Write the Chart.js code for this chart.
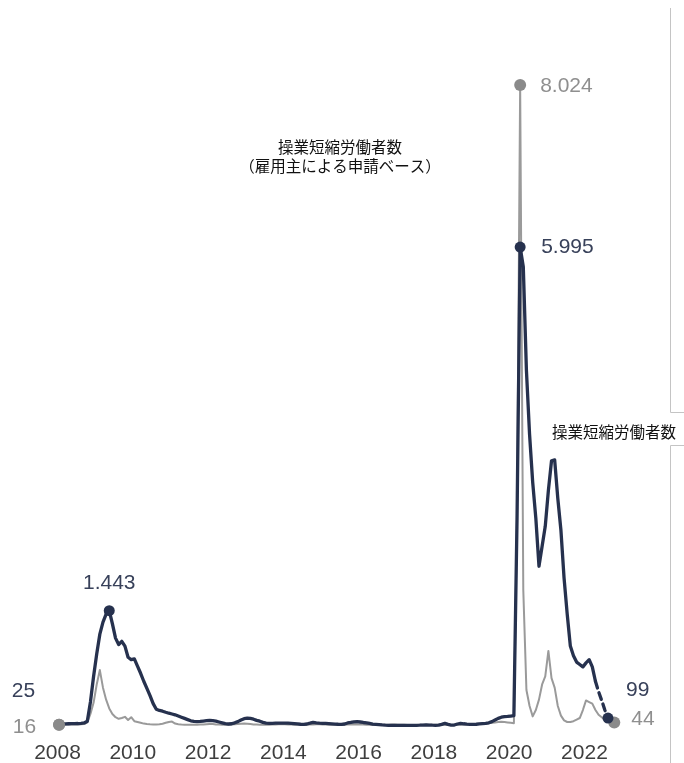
<!DOCTYPE html>
<html lang="ja">
<head>
<meta charset="utf-8">
<title>操業短縮労働者数</title>
<script src="https://cdn.jsdelivr.net/npm/chart.js@4.4.1/dist/chart.umd.min.js"></script>
<style>
  html, body { margin: 0; padding: 0; background: #ffffff; }
  #wrap { position: relative; width: 684px; height: 763px; }
</style>
</head>
<body>
<div id="wrap"><canvas id="chart" width="684" height="763"></canvas></div>
<script>
// Monthly series, starting January 2008, in thousands of workers.
const startYear = 2008;
const yearTicks = [2008, 2010, 2012, 2014, 2016, 2018, 2020, 2022];

// Short-time workers (realised), Jan 2008 – Aug 2022
const workers = [
  25, 26, 27, 28, 29, 30, 31, 33, 38, 60, 300, 620,               // 2008
  900, 1150, 1300, 1400, 1443, 1280, 1100, 1020, 1060, 1000, 860, 830, // 2009
  840, 750, 660, 560, 470, 380, 280, 210, 195, 185, 172, 160,     // 2010
  150, 140, 125, 110, 95, 80, 65, 58, 55, 58, 62, 66,             // 2011
  70, 66, 60, 50, 40, 30, 25, 28, 40, 55, 75, 92,                 // 2012
  98, 95, 85, 70, 60, 45, 36, 34, 34, 35, 35, 36,                 // 2013
  36, 35, 33, 30, 26, 22, 21, 25, 35, 46, 40, 36,                 // 2014
  34, 32, 30, 27, 24, 22, 21, 25, 38, 44, 52, 54,                 // 2015
  50, 44, 40, 32, 24, 21, 18, 14, 11, 9, 9, 9,                    // 2016
  9, 9, 9, 9, 9, 9, 9, 10, 12, 14, 12, 10,                        // 2017
  9, 10, 20, 34, 20, 10, 12, 25, 34, 28, 24, 21,                  // 2018
  20, 22, 26, 30, 34, 40, 55, 75, 96, 110, 117, 120,              // 2019
  125, 130, 2580, 5995, 5750, 4450, 3650, 3050, 2600, 2000, 2250, 2500, // 2020
  2950, 3320, 3330, 2850, 2450, 1850, 1400, 1000, 880, 800, 770, 740,   // 2021
  790, 830, 740, 560, 430, 320, 200, 99                           // 2022
];
// First month of the provisional (dashed) stretch: Apr 2022
const provisionalFrom = 171;

// Short-time workers as notified by employers, Jan 2008 – Oct 2022
const notified = [
  16, 16, 17, 18, 18, 19, 20, 22, 25, 45, 150, 290,               // 2008
  520, 700, 480, 330, 220, 150, 110, 90, 100, 115, 75, 110,       // 2009
  60, 50, 40, 30, 25, 22, 20, 20, 22, 28, 40, 50,                 // 2010
  55, 30, 22, 18, 16, 15, 15, 15, 16, 18, 20, 22,                 // 2011
  24, 25, 20, 18, 16, 15, 16, 18, 22, 26, 28, 30,                 // 2012
  28, 24, 20, 18, 16, 15, 15, 16, 18, 20, 22, 24,                 // 2013
  22, 20, 18, 16, 15, 15, 15, 16, 18, 20, 22, 22,                 // 2014
  20, 18, 17, 16, 15, 15, 15, 16, 18, 20, 21, 20,                 // 2015
  19, 18, 16, 15, 14, 14, 14, 15, 16, 17, 18, 18,                 // 2016
  17, 16, 15, 14, 14, 14, 14, 15, 16, 17, 17, 17,                 // 2017
  16, 15, 15, 14, 14, 14, 15, 16, 17, 18, 20, 22,                 // 2018
  24, 26, 28, 30, 32, 35, 40, 45, 50, 52, 50, 45,                 // 2019
  40, 35, 2650, 8024, 1700, 450, 250, 120, 200, 330, 520, 620,    // 2020
  940, 600, 480, 250, 130, 70, 50, 50, 60, 80, 100, 200,          // 2021
  320, 300, 280, 200, 140, 110, 80, 60, 50, 44                    // 2022
];

const titleNotified = ['操業短縮労働者数', '（雇用主による申請ベース）'];
const titleWorkers = '操業短縮労働者数';

// ---- helpers ----
const toPoints = arr => arr.map((v, i) => ({ x: startYear + (i + 0.5) / 12, y: v }));
const fmt = v => String(v).replace(/\B(?=(\d{3})+(?!\d))/g, '.');
const argMax = (arr, from, to) => {
  let best = from;
  for (let i = from; i < to; i++) if (arr[i] > arr[best]) best = i;
  return best;
};

const NAVY = '#26314e';
const GREY = '#9a9a9a';
const GREY_DOT = '#8a8a8a';
const NAVY_TEXT = '#38415a';
const GREY_TEXT = '#8f8f8f';
const NUM_FONT = '21px "Liberation Sans", Arial, sans-serif';
const JP_FONT = '15.5px "Noto Sans CJK JP", sans-serif';

const workersPeak2009 = argMax(workers, 12, 24);
const workersPeak = argMax(workers, 0, workers.length);
const workersLast = workers.length - 1;
const notifiedPeak = argMax(notified, 0, notified.length);
const notifiedLast = notified.length - 1;

const workerDots = [workersPeak2009, workersPeak, workersLast];
const notifiedDots = [0, notifiedPeak, notifiedLast];

const decorations = {
  id: 'decorations',
  afterDatasetsDraw(chart) {
    const ctx = chart.ctx;
    const w = chart.getDatasetMeta(0).data;
    const g = chart.getDatasetMeta(1).data;
    ctx.save();

    // start marker of the notified series sits above the other line
    ctx.beginPath();
    ctx.arc(g[0].x, g[0].y, 6, 0, Math.PI * 2);
    ctx.fillStyle = GREY_DOT;
    ctx.fill();

    ctx.font = NUM_FONT;
    ctx.textBaseline = 'middle';

    // value labels
    ctx.fillStyle = NAVY_TEXT;
    ctx.textAlign = 'center';
    ctx.fillText(fmt(workers[workersPeak2009]), w[workersPeak2009].x, w[workersPeak2009].y - 28);
    ctx.textAlign = 'left';
    ctx.fillText(fmt(workers[workersPeak]), w[workersPeak].x + 21, w[workersPeak].y);
    ctx.fillText(fmt(workers[workersLast]), w[workersLast].x + 18, w[workersLast].y - 28);
    ctx.textAlign = 'right';
    ctx.fillText(fmt(workers[0]), w[0].x - 24, w[0].y - 33);

    ctx.fillStyle = GREY_TEXT;
    ctx.textAlign = 'left';
    ctx.fillText(fmt(notified[notifiedPeak]), g[notifiedPeak].x + 20, g[notifiedPeak].y + 1);
    ctx.fillText(fmt(notified[notifiedLast]), g[notifiedLast].x + 17, g[notifiedLast].y - 3);
    ctx.textAlign = 'right';
    ctx.fillText(fmt(notified[0]), g[0].x - 23, g[0].y + 2);

    // series titles
    ctx.fillStyle = '#111111';
    ctx.font = JP_FONT;
    ctx.textAlign = 'center';
    ctx.fillText(titleNotified[0], 340, 147);
    ctx.fillText(titleNotified[1], 340, 166);
    ctx.textAlign = 'left';
    ctx.fillText(titleWorkers, 552, 432);

    // bracket rules at the right edge
    ctx.strokeStyle = '#c4c4c4';
    ctx.lineWidth = 1;
    ctx.beginPath();
    ctx.moveTo(670.5, 8);
    ctx.lineTo(670.5, 412.5);
    ctx.lineTo(684, 412.5);
    ctx.moveTo(684, 445.5);
    ctx.lineTo(670.5, 445.5);
    ctx.lineTo(670.5, 763);
    ctx.stroke();

    ctx.restore();
  }
};

new Chart(document.getElementById('chart'), {
  type: 'line',
  data: {
    datasets: [
      {
        label: titleWorkers,
        data: toPoints(workers),
        borderColor: NAVY,
        borderWidth: 3.3,
        borderJoinStyle: 'round',
        borderCapStyle: 'round',
        tension: 0,
        clip: false,
        pointRadius: c => workerDots.includes(c.dataIndex) ? 5.5 : 0,
        pointBackgroundColor: NAVY,
        pointBorderWidth: 0,
        pointHoverRadius: 0,
        segment: {
          borderDash: c => c.p0DataIndex >= provisionalFrom ? [7, 5] : undefined
        }
      },
      {
        label: titleNotified.join(''),
        data: toPoints(notified),
        borderColor: GREY,
        borderWidth: 2,
        borderJoinStyle: 'round',
        tension: 0,
        clip: false,
        pointRadius: c => notifiedDots.includes(c.dataIndex) ? 6 : 0,
        pointBackgroundColor: GREY_DOT,
        pointBorderWidth: 0,
        pointHoverRadius: 0
      }
    ]
  },
  options: {
    responsive: false,
    animation: false,
    events: [],
    layout: { padding: { left: 57.5, right: 61.9, top: 7, bottom: 0 } },
    plugins: { legend: { display: false }, tooltip: { enabled: false } },
    scales: {
      x: {
        type: 'linear',
        min: 2008,
        max: 2023,
        grid: { display: false, drawTicks: false },
        border: { display: false },
        afterBuildTicks: axis => { axis.ticks = yearTicks.map(v => ({ value: v })); },
        afterFit: axis => { axis.height = 37; },
        ticks: {
          callback: v => String(v),
          autoSkip: false,
          maxRotation: 0,
          padding: 15,
          color: '#3e3e3e',
          font: { family: '"Liberation Sans", Arial, sans-serif', size: 21 }
        }
      },
      y: {
        display: false,
        min: 0,
        max: 9000
      }
    }
  },
  plugins: [decorations]
});
</script>
</body>
</html>
